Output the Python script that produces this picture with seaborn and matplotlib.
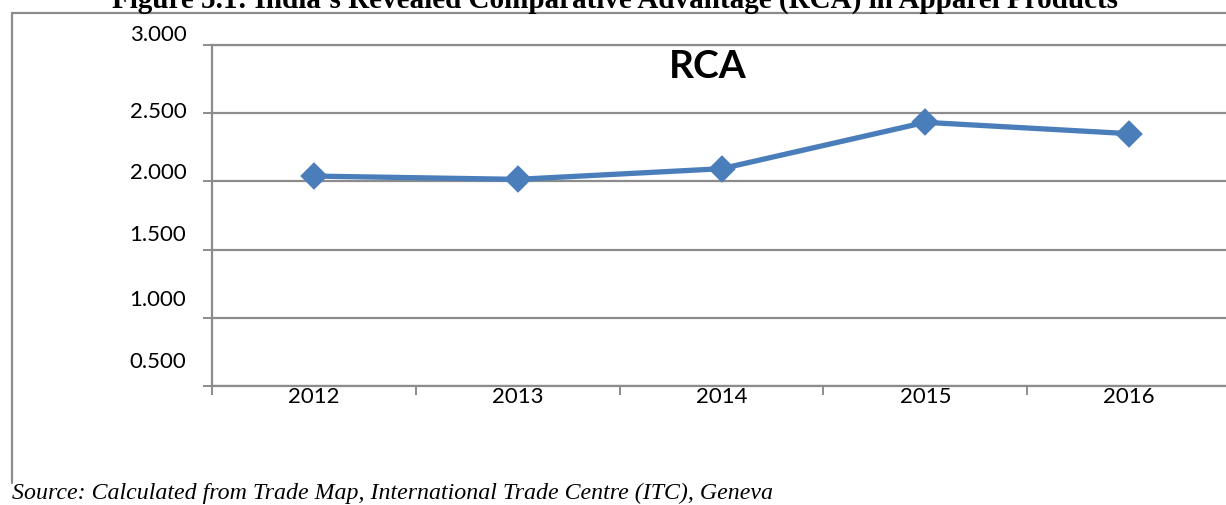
import matplotlib
matplotlib.use("Agg")
import matplotlib.pyplot as plt
import matplotlib.transforms as mtransforms
from matplotlib.lines import Line2D
import pandas as pd
import seaborn as sns

# Revealed Comparative Advantage of India's apparel exports
years = ["2012", "2013", "2014", "2015", "2016"]
rca = [2.039, 2.015, 2.093, 2.433, 2.350]
y_ticks = [0.5, 1.0, 1.5, 2.0, 2.5, 3.0]

title = "Figure 5.1: India\u2019s Revealed Comparative Advantage (RCA) in Apparel Products"
series_name = "RCA"
source = "Source: Calculated from Trade Map, International Trade Centre (ITC), Geneva"

df = pd.DataFrame({"year": years, "rca": rca})

sns.set_style("white")
plt.rcParams["font.family"] = ["Lato", "DejaVu Sans"]
plt.rcParams["text.color"] = "black"
plt.rcParams["xtick.labelcolor"] = "black"
plt.rcParams["ytick.labelcolor"] = "black"

W, H = 1226, 505
fig = plt.figure(figsize=(W / 100, H / 100), dpi=100)
ax = fig.add_axes([212 / W, (H - 386) / H, (1231 - 212) / W, (386 - 45) / H])

line_color = "#4A7EBB"
grid_color = "#8c8c8c"

sns.pointplot(data=df, x="year", y="rca", color=line_color, markers="D",
              errorbar=None, markersize=11, linewidth=3.8, ax=ax)

ax.set_xlim(-0.5, len(years) - 0.5)
ax.set_ylim(y_ticks[0], y_ticks[-1])
ax.set_xlabel("")
ax.set_ylabel("")

# horizontal gridlines and frame
ax.set_yticks(y_ticks)
ax.set_yticklabels([f"{v:.3f}" for v in y_ticks])
ax.yaxis.grid(True, color=grid_color, lw=1.6)
ax.set_axisbelow(True)
for side in ("left", "bottom", "top"):
    ax.spines[side].set_visible(True)
    ax.spines[side].set_color(grid_color)
    ax.spines[side].set_linewidth(1.6)
ax.spines["right"].set_visible(False)

ax.tick_params(axis="y", which="major", direction="out", length=6.5, width=1.4,
               color=grid_color, labelsize=16, pad=12, left=True, labelcolor="black")
ax.tick_params(axis="x", which="major", length=0, labelsize=16, pad=1, labelcolor="black")
ax.set_xticks([i - 0.5 for i in range(len(years) + 1)], minor=True)
ax.tick_params(axis="x", which="minor", direction="out", length=6.5, width=1.4,
               color=grid_color, bottom=True)

# value labels sit a little above their gridlines
lift_px = [26, 20, 17, 10, 3, 12]
for lbl, dy in zip(ax.get_yticklabels(), lift_px):
    lbl.set_transform(lbl.get_transform() +
                      mtransforms.ScaledTranslation(0, dy / 100, fig.dpi_scale_trans))

ax.text(708 / W, 1 - 67 / H, series_name, transform=fig.transFigure,
        ha="center", va="center", fontsize=28, fontweight="bold", color="black")

# chart-area frame (top and left edges)
fig.add_artist(Line2D([12 / W, 1.0], [1 - 13 / H, 1 - 13 / H],
                      transform=fig.transFigure, color=grid_color, lw=1.6))
fig.add_artist(Line2D([12 / W, 12 / W], [1 - 13 / H, 1 - 483 / H],
                      transform=fig.transFigure, color=grid_color, lw=1.6))

fig.text(615 / W, 1 - 8 / H, title, ha="center", va="baseline", color="black",
         fontsize=21, fontweight="bold", family=["Liberation Serif", "DejaVu Serif"])
fig.text(12 / W, 1 - 493 / H, source, ha="left", va="center", color="black",
         fontsize=17.2, style="italic", family=["Liberation Serif", "DejaVu Serif"])

fig.savefig("out.png", dpi=100)
